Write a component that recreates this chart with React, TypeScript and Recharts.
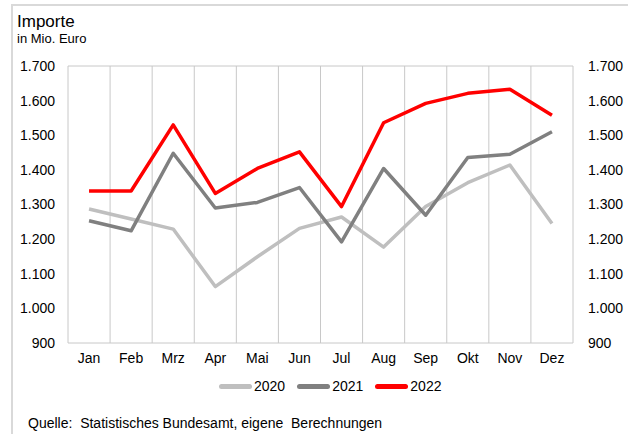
import { LineChart, Line, XAxis, YAxis, CartesianGrid, Legend } from 'recharts';

// Importe in Mio. Euro, je Monat
const months = ['Jan', 'Feb', 'Mrz', 'Apr', 'Mai', 'Jun', 'Jul', 'Aug', 'Sep', 'Okt', 'Nov', 'Dez'];
const imp2020 = [1287, 1258, 1229, 1063, 1149, 1231, 1264, 1177, 1294, 1363, 1414, 1245];
const imp2021 = [1253, 1224, 1448, 1290, 1306, 1349, 1192, 1404, 1269, 1436, 1445, 1510];
const imp2022 = [1339, 1339, 1530, 1332, 1404, 1452, 1294, 1536, 1592, 1621, 1633, 1558];
const yTicks = [900, 1000, 1100, 1200, 1300, 1400, 1500, 1600, 1700];

const series = [
    { key: 'y2020', name: '2020', color: '#BFBFBF' },
    { key: 'y2021', name: '2021', color: '#808080' },
    { key: 'y2022', name: '2022', color: '#FF0000' },
];

const data = months.map((m, i) => ({
    month: m,
    y2020: imp2020[i],
    y2021: imp2021[i],
    y2022: imp2022[i],
}));

const FONT = '"Liberation Sans", Arial, sans-serif';
const fmt = (v: number) => v.toLocaleString('de-DE');

// Gitterlinien an den Kategoriegrenzen statt an den Tickmitten
const bandEdges = ({ offset }: any) => {
    const step = offset.width / months.length;
    return Array.from({ length: months.length + 1 }, (_, i) => offset.left + i * step);
};

const LegendContent = () => (
    <div style={{ display: 'flex', alignItems: 'center', paddingLeft: 219, fontFamily: FONT, fontSize: 14, color: '#000' }}>
        {series.map((s) => (
            <div key={s.key} style={{ display: 'flex', alignItems: 'center', marginRight: 12 }}>
                <span style={{ width: 33, height: 5, borderRadius: 3, background: s.color, marginRight: 2 }} />
                <span>{s.name}</span>
            </div>
        ))}
    </div>
);

export default function App() {
    const tick = { fontFamily: FONT, fontSize: 14, fill: '#000' };
    return (
        <div style={{ position: 'absolute', left: 0, top: 0, width: 628, height: 434, overflow: 'hidden', background: '#fff', fontFamily: FONT }}>
            <div style={{ position: 'absolute', left: 11, top: 4, width: 700, height: 500, borderTop: '2px solid #D9D9D9', borderLeft: '2px solid #D9D9D9' }} />
            <div style={{ position: 'absolute', left: 17, top: 12.6, fontSize: 17, lineHeight: '17px', color: '#000' }}>Importe</div>
            <div style={{ position: 'absolute', left: 17, top: 32, fontSize: 13, lineHeight: '13px', color: '#000' }}>in Mio. Euro</div>
            <div style={{ position: 'absolute', left: 0, top: 0 }}>
                <LineChart width={628} height={434} data={data} margin={{ top: 66, right: 0, bottom: 43, left: 0 }}>
                    <CartesianGrid stroke="#C8C8C8" strokeWidth={1} verticalCoordinatesGenerator={bandEdges} />
                    <XAxis
                        dataKey="month"
                        scale="band"
                        height={26}
                        tick={tick}
                        tickLine={false}
                        axisLine={false}
                        tickMargin={4}
                        interval={0}
                    />
                    <YAxis
                        yAxisId="left"
                        width={68}
                        domain={[900, 1700]}
                        ticks={yTicks}
                        allowDataOverflow
                        tick={tick}
                        tickFormatter={fmt}
                        tickLine={false}
                        axisLine={false}
                        tickMargin={7}
                    />
                    <YAxis
                        yAxisId="right"
                        orientation="right"
                        width={55}
                        domain={[900, 1700]}
                        ticks={yTicks}
                        allowDataOverflow
                        tick={{ ...tick, textAnchor: 'start' }}
                        tickFormatter={fmt}
                        tickLine={false}
                        axisLine={false}
                        tickMargin={9}
                    />
                    <Legend content={<LegendContent />} verticalAlign="bottom" height={22} wrapperStyle={{ left: 0, top: 378, width: 628 }} />
                    {series.map((s) => (
                        <Line
                            key={s.key}
                            yAxisId="left"
                            type="linear"
                            dataKey={s.key}
                            name={s.name}
                            stroke={s.color}
                            strokeWidth={3.5}
                            strokeLinejoin="round"
                            dot={false}
                            activeDot={false}
                            isAnimationActive={false}
                        />
                    ))}
                </LineChart>
            </div>
            <div style={{ position: 'absolute', left: 28, top: 416, fontSize: 14, lineHeight: '14px', color: '#000', whiteSpace: 'pre' }}>
                Quelle:  Statistisches Bundesamt, eigene  Berechnungen
            </div>
        </div>
    );
}
